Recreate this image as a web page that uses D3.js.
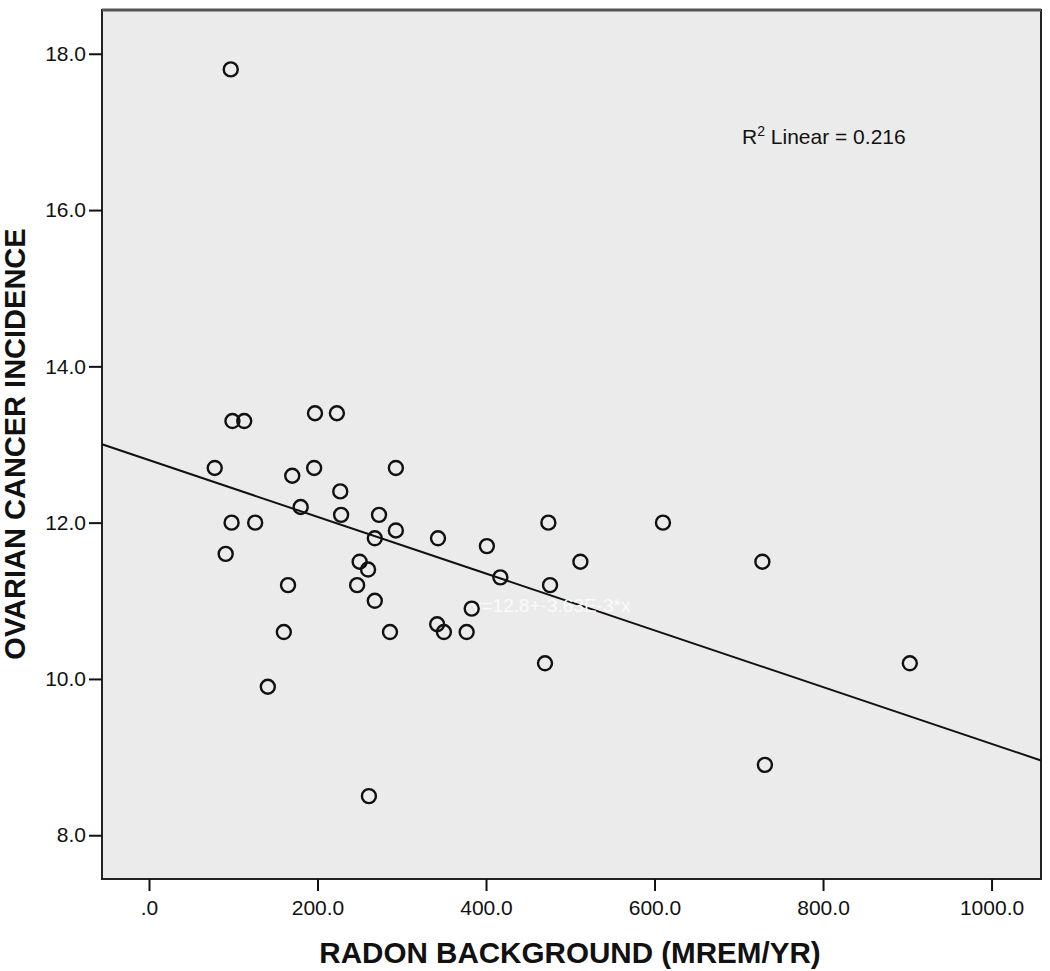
<!DOCTYPE html>
<html><head><meta charset="utf-8">
<script src="https://cdn.jsdelivr.net/npm/d3@7"></script>
<style>
body{margin:0;background:#fff;}
text{font-family:"Liberation Sans",Arial,sans-serif;}
</style></head>
<body><svg id="c" width="1050" height="971"></svg>
<script>
const radon = [97,99,113,197,223,78,170,196,293,180,227,228,273,98,126,293,268,343,91,401,474,610,250,512,728,260,417,165,247,476,268,383,342,350,377,286,160,470,903,141,731,261];
const incidence = [17.8,13.3,13.3,13.4,13.4,12.7,12.6,12.7,12.7,12.2,12.4,12.1,12.1,12.0,12.0,11.9,11.8,11.8,11.6,11.7,12.0,12.0,11.5,11.5,11.5,11.4,11.3,11.2,11.2,11.2,11.0,10.9,10.7,10.6,10.6,10.6,10.6,10.2,10.2,9.9,8.9,8.5];
const xTicks = [0,200,400,600,800,1000];
const yTicks = [8,10,12,14,16,18];
const fitIntercept = 12.8;
const fitSlope = -0.00363;
const r2Text = "0.216";
const fitLabel = "y=12.8+-3.63E-3*x";

const svg = d3.select("#c");
const L=102, R=1041, T=10, B=879;
const x = d3.scaleLinear().domain([-55.8,1058.7]).range([L,R]);
const y = d3.scaleLinear().domain([7.44,18.56]).range([B,T]);

svg.append("rect").attr("x",L).attr("y",T).attr("width",R-L).attr("height",B-T)
  .attr("fill","#ebebeb").attr("stroke","#222").attr("stroke-width",2);
svg.append("line").attr("x1",L).attr("x2",R).attr("y1",T).attr("y2",T).attr("stroke","#555").attr("stroke-width",3);

const xAx = svg.append("g").attr("transform",`translate(0,${B})`)
  .call(d3.axisBottom(x).tickValues(xTicks).tickSize(12).tickSizeOuter(0)
    .tickFormat(d=>d===0?".0":d3.format(".1f")(d)));
xAx.select(".domain").remove();
xAx.selectAll("line").attr("stroke","#111").attr("stroke-width",2);
xAx.selectAll("text").attr("font-size","21px").attr("fill","#111").attr("y",36).attr("dy",0)
  .style("font-family","Liberation Sans, Arial, sans-serif");

const yAx = svg.append("g").attr("transform",`translate(${L},0)`)
  .call(d3.axisLeft(y).tickValues(yTicks).tickSize(13).tickSizeOuter(0)
    .tickFormat(d3.format(".1f")));
yAx.select(".domain").remove();
yAx.selectAll("line").attr("stroke","#111").attr("stroke-width",2);
yAx.selectAll("text").attr("font-size","21px").attr("fill","#111").attr("x",-16)
  .style("font-family","Liberation Sans, Arial, sans-serif");

// regression line
const xd = x.domain();
svg.append("line")
  .attr("x1",x(xd[0])).attr("y1",y(fitIntercept+fitSlope*xd[0]))
  .attr("x2",x(xd[1])).attr("y2",y(fitIntercept+fitSlope*xd[1]))
  .attr("stroke","#111").attr("stroke-width",2);

svg.append("text").attr("x",472).attr("y",612).attr("text-anchor","start")
  .attr("font-size","19px").attr("fill","#fafafa").text(fitLabel);

svg.selectAll("circle.pt").data(radon.map((d,i)=>[d,incidence[i]])).enter()
  .append("circle").attr("class","pt")
  .attr("cx",d=>x(d[0])).attr("cy",d=>y(d[1])).attr("r",7)
  .attr("fill","none").attr("stroke","#111").attr("stroke-width",2.4);

const r2 = svg.append("text").attr("x",742).attr("y",144).attr("font-size","21px").attr("fill","#111");
r2.append("tspan").text("R");
r2.append("tspan").attr("font-size","14px").attr("dy","-8").text("2");
r2.append("tspan").attr("dy","8").text(" Linear = "+r2Text);

svg.append("text").attr("x",570).attr("y",963).attr("text-anchor","middle")
  .attr("font-size","29.6px").attr("font-weight","bold").attr("fill","#111")
  .text("RADON BACKGROUND (MREM/YR)");
svg.append("text").attr("transform",`translate(25,${444}) rotate(-90)`).attr("text-anchor","middle")
  .attr("font-size","29px").attr("font-weight","bold").attr("fill","#111")
  .text("OVARIAN CANCER INCIDENCE");
</script></body></html>
